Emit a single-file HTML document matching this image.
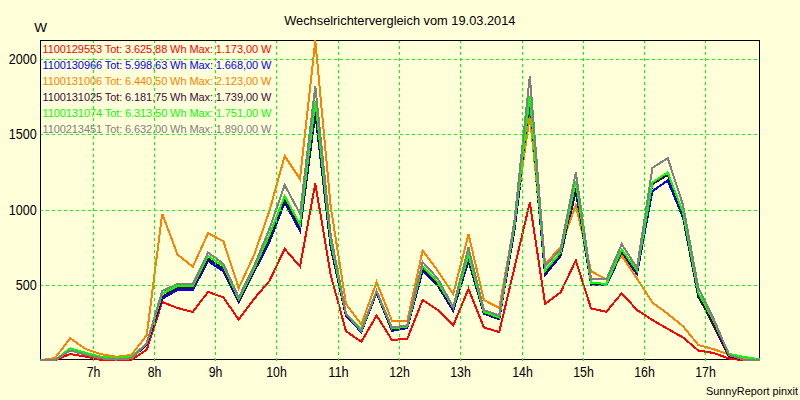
<!DOCTYPE html>
<html><head><meta charset="utf-8"><title>Wechselrichtervergleich</title>
<style>
html,body{margin:0;padding:0;background:#ffffd9;}
body{width:800px;height:400px;overflow:hidden;}
svg{display:block;}
text{font-family:"Liberation Sans",sans-serif;fill:#000;}
</style></head><body>
<svg width="800" height="400" viewBox="0 0 800 400">
<rect x="0" y="0" width="800" height="400" fill="#ffffd9"/>
<g stroke="#000" stroke-width="1" shape-rendering="crispEdges" fill="none">
<rect x="40.5" y="40.5" width="719" height="319"/>
</g>
<g font-size="11">
<text x="42.5" y="53" textLength="228.8" lengthAdjust="spacing" style="fill:#ff0000">1100129553 Tot: 3.625,88 Wh Max: 1.173,00 W</text>
<text x="42.5" y="69" textLength="228.8" lengthAdjust="spacing" style="fill:#0000ff">1100130966 Tot: 5.998,63 Wh Max: 1.668,00 W</text>
<text x="42.5" y="85" textLength="228.8" lengthAdjust="spacing" style="fill:#ff8000">1100131006 Tot: 6.440,50 Wh Max: 2.123,00 W</text>
<text x="42.5" y="101" textLength="228.8" lengthAdjust="spacing" style="fill:#400840">1100131025 Tot: 6.181,75 Wh Max: 1.739,00 W</text>
<text x="42.5" y="117" textLength="228.8" lengthAdjust="spacing" style="fill:#00ff00">1100131074 Tot: 6.313,50 Wh Max: 1.751,00 W</text>
<text x="42.5" y="133" textLength="228.8" lengthAdjust="spacing" style="fill:#808080">1100213451 Tot: 6.632,00 Wh Max: 1.890,00 W</text>
</g>
<g fill="none" stroke-width="2" stroke-linejoin="miter" shape-rendering="crispEdges">
<polyline stroke="#ff0000" points="39.6,360.2 54.9,360.2 70.2,354.0 85.6,356.6 100.9,359.8 116.2,360.5 131.5,359.8 146.8,349.6 162.2,302.0 177.5,308.0 192.8,312.0 208.1,291.8 223.4,297.5 238.7,319.5 254.1,298.8 269.4,281.0 284.7,248.8 300.0,266.5 315.3,183.5 330.7,275.0 346.0,331.2 361.3,341.8 376.6,315.5 391.9,340.0 407.3,338.8 422.6,300.0 437.9,310.0 453.2,325.5 468.5,288.8 483.9,327.5 499.2,332.0 514.5,267.5 529.8,202.5 545.1,303.8 560.5,292.5 575.8,260.5 591.1,308.5 606.4,311.8 621.7,293.2 637.0,310.0 652.4,320.0 667.7,328.8 683.0,337.5 698.3,350.5 713.6,353.0 729.0,358.5 744.3,360.3 759.6,360.3"/>
<polyline stroke="#0000ff" points="39.6,360.2 54.9,360.2 70.2,350.6 85.6,354.6 100.9,358.3 116.2,359.6 131.5,358.3 146.8,344.5 162.2,298.8 177.5,290.0 192.8,290.0 208.1,261.0 223.4,271.5 238.7,302.5 254.1,272.0 269.4,242.0 284.7,202.5 300.0,231.0 315.3,113.8 330.7,247.5 346.0,316.2 361.3,332.0 376.6,293.0 391.9,330.8 407.3,328.0 422.6,271.2 437.9,286.2 453.2,310.8 468.5,261.0 483.9,313.8 499.2,319.2 514.5,230.0 529.8,108.6 545.1,275.0 560.5,256.2 575.8,191.5 591.1,285.0 606.4,285.0 621.7,253.5 637.0,274.0 652.4,191.2 667.7,180.5 683.0,217.5 698.3,297.0 713.6,322.5 729.0,355.5 744.3,359.8 759.6,360.2"/>
<polyline stroke="#ff8000" points="39.6,360.2 54.9,358.2 70.2,338.2 85.6,349.0 100.9,354.2 116.2,356.8 131.5,355.0 146.8,335.0 162.2,213.8 177.5,254.5 192.8,266.8 208.1,233.2 223.4,241.2 238.7,288.0 254.1,255.0 269.4,211.0 284.7,156.0 300.0,179.0 315.3,40.5 330.7,206.5 346.0,303.8 361.3,324.5 376.6,282.0 391.9,320.8 407.3,320.8 422.6,250.5 437.9,271.0 453.2,294.0 468.5,234.2 483.9,300.0 499.2,308.0 514.5,222.0 529.8,116.0 545.1,263.8 560.5,247.5 575.8,205.0 591.1,271.2 606.4,279.5 621.7,255.5 637.0,278.5 652.4,302.5 667.7,313.8 683.0,326.2 698.3,345.0 713.6,349.2 729.0,354.5 744.3,358.0 759.6,360.0"/>
<polyline stroke="#400840" points="39.6,360.2 54.9,360.2 70.2,350.6 85.6,354.6 100.9,358.3 116.2,359.6 131.5,358.3 146.8,344.0 162.2,296.5 177.5,288.2 192.8,288.2 208.1,258.6 223.4,269.0 238.7,300.9 254.1,270.4 269.4,238.9 284.7,199.7 300.0,227.5 315.3,109.4 330.7,244.6 346.0,315.5 361.3,330.7 376.6,292.3 391.9,329.7 407.3,327.3 422.6,268.9 437.9,284.6 453.2,309.3 468.5,258.3 483.9,313.0 499.2,318.5 514.5,227.8 529.8,97.9 545.1,273.1 560.5,254.6 575.8,188.5 591.1,284.1 606.4,284.4 621.7,252.0 637.0,272.4 652.4,184.0 667.7,175.0 683.0,215.2 698.3,296.3 713.6,325.5 729.0,356.5 744.3,359.8 759.6,360.2"/>
<polyline stroke="#00ff00" points="39.6,360.2 54.9,360.2 70.2,348.3 85.6,352.8 100.9,356.7 116.2,358.2 131.5,356.8 146.8,343.5 162.2,293.8 177.5,286.0 192.8,286.0 208.1,255.8 223.4,266.0 238.7,299.0 254.1,268.5 269.4,235.0 284.7,196.2 300.0,224.5 315.3,101.2 330.7,241.0 346.0,314.5 361.3,329.0 376.6,291.5 391.9,328.5 407.3,326.5 422.6,266.0 437.9,282.5 453.2,307.5 468.5,255.0 483.9,312.0 499.2,317.5 514.5,225.0 529.8,96.1 545.1,270.8 560.5,252.5 575.8,181.2 591.1,283.0 606.4,283.8 621.7,249.5 637.0,270.5 652.4,182.5 667.7,172.5 683.0,212.5 698.3,292.5 713.6,321.0 729.0,353.8 744.3,357.0 759.6,359.5"/>
<polyline stroke="#808080" points="39.6,360.2 54.9,360.2 70.2,350.6 85.6,354.6 100.9,358.3 116.2,359.6 131.5,358.3 146.8,343.0 162.2,291.0 177.5,283.8 192.8,284.0 208.1,252.5 223.4,263.8 238.7,297.5 254.1,266.0 269.4,229.0 284.7,185.0 300.0,213.8 315.3,86.2 330.7,235.0 346.0,313.8 361.3,331.2 376.6,291.0 391.9,327.5 407.3,325.5 422.6,262.0 437.9,278.8 453.2,307.0 468.5,247.5 483.9,310.0 499.2,315.5 514.5,220.0 529.8,76.2 545.1,266.0 560.5,249.5 575.8,172.5 591.1,278.8 606.4,279.5 621.7,244.0 637.0,267.8 652.4,168.0 667.7,158.0 683.0,205.0 698.3,287.5 713.6,318.8 729.0,355.0 744.3,359.8 759.6,360.2"/>
</g>
<g stroke="#00ff00" stroke-width="1" stroke-dasharray="3,3" stroke-dashoffset="1" shape-rendering="crispEdges" fill="none">
<line x1="93.5" y1="41" x2="93.5" y2="361"/>
<line x1="154.5" y1="41" x2="154.5" y2="361"/>
<line x1="215.5" y1="41" x2="215.5" y2="361"/>
<line x1="276.5" y1="41" x2="276.5" y2="361"/>
<line x1="338.5" y1="41" x2="338.5" y2="361"/>
<line x1="399.5" y1="41" x2="399.5" y2="361"/>
<line x1="460.5" y1="41" x2="460.5" y2="361"/>
<line x1="522.5" y1="41" x2="522.5" y2="361"/>
<line x1="583.5" y1="41" x2="583.5" y2="361"/>
<line x1="644.5" y1="41" x2="644.5" y2="361"/>
<line x1="705.5" y1="41" x2="705.5" y2="361"/>
<line x1="41" y1="285.5" x2="759" y2="285.5"/>
<line x1="41" y1="210.5" x2="759" y2="210.5"/>
<line x1="41" y1="134.5" x2="759" y2="134.5"/>
<line x1="41" y1="59.5" x2="759" y2="59.5"/>
</g>
<g font-size="13">
<text x="284.2" y="24.9" font-size="13.4" textLength="231.3" lengthAdjust="spacingAndGlyphs">Wechselrichtervergleich vom 19.03.2014</text>
<text x="34.3" y="31.6" font-size="13.4" textLength="12.8" lengthAdjust="spacingAndGlyphs">W</text>
<text x="15.8" y="289.9" font-size="13.8" textLength="21.0" lengthAdjust="spacingAndGlyphs">500</text>
<text x="8.8" y="214.9" font-size="13.8" textLength="28.0" lengthAdjust="spacingAndGlyphs">1000</text>
<text x="8.8" y="138.9" font-size="13.8" textLength="28.0" lengthAdjust="spacingAndGlyphs">1500</text>
<text x="8.8" y="63.9" font-size="13.8" textLength="28.0" lengthAdjust="spacingAndGlyphs">2000</text>
<text x="86.7" y="376.9" font-size="14" textLength="13.7" lengthAdjust="spacingAndGlyphs">7h</text>
<text x="147.7" y="376.9" font-size="14" textLength="13.7" lengthAdjust="spacingAndGlyphs">8h</text>
<text x="208.7" y="376.9" font-size="14" textLength="13.7" lengthAdjust="spacingAndGlyphs">9h</text>
<text x="266.2" y="376.9" font-size="14" textLength="20.6" lengthAdjust="spacingAndGlyphs">10h</text>
<text x="328.2" y="376.9" font-size="14" textLength="20.6" lengthAdjust="spacingAndGlyphs">11h</text>
<text x="389.2" y="376.9" font-size="14" textLength="20.6" lengthAdjust="spacingAndGlyphs">12h</text>
<text x="450.2" y="376.9" font-size="14" textLength="20.6" lengthAdjust="spacingAndGlyphs">13h</text>
<text x="512.2" y="376.9" font-size="14" textLength="20.6" lengthAdjust="spacingAndGlyphs">14h</text>
<text x="573.2" y="376.9" font-size="14" textLength="20.6" lengthAdjust="spacingAndGlyphs">15h</text>
<text x="634.2" y="376.9" font-size="14" textLength="20.6" lengthAdjust="spacingAndGlyphs">16h</text>
<text x="695.2" y="376.9" font-size="14" textLength="20.6" lengthAdjust="spacingAndGlyphs">17h</text>
<text x="798" y="395" font-size="10.9" text-anchor="end">SunnyReport pinxit</text>
</g>
</svg>
</body></html>
